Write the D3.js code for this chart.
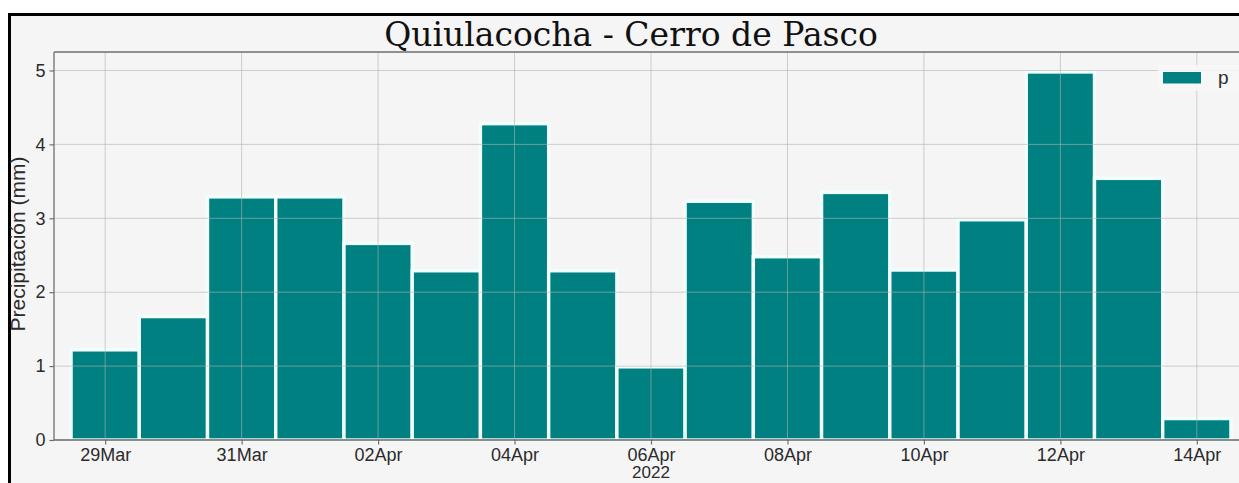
<!DOCTYPE html>
<html>
<head>
<meta charset="utf-8">
<script src="https://cdn.jsdelivr.net/npm/d3@7"></script>
<style>
  html, body { margin: 0; padding: 0; background: #ffffff; overflow: hidden; }
  svg { display: block; overflow: hidden; }
</style>
</head>
<body>
<script>
// ---- data ----
const dates = ["2022-03-29","2022-03-30","2022-03-31","2022-04-01","2022-04-02","2022-04-03",
  "2022-04-04","2022-04-05","2022-04-06","2022-04-07","2022-04-08","2022-04-09","2022-04-10",
  "2022-04-11","2022-04-12","2022-04-13","2022-04-14"];
const values = [1.22, 1.67, 3.29, 3.29, 2.66, 2.29, 4.28, 2.29, 0.99, 3.23, 2.48, 3.35, 2.30, 2.98, 4.98, 3.54, 0.29];
const yTicks = [0, 1, 2, 3, 4, 5];
const titleText = "Quiulacocha - Cerro de Pasco";
const yLabel = "Precipitación (mm)";
const xLabel = "2022";
const seriesName = "p";

// ---- layout ----
const W = 1239, H = 483;
const plot = { left: 54, right: 1248, top: 52, bottom: 440 };
const DAY = 86400000;
const barColor = "#008080";
const tickFont = "'Liberation Sans', Arial, sans-serif";

const parsed = dates.map(d => new Date(d + "T00:00:00Z"));
const data = parsed.map((d, i) => ({ date: d, value: values[i] }));

const svg = d3.select("body").append("svg").attr("width", W).attr("height", H);

// outer figure frame (only left and top edges visible in the crop)
svg.append("rect").attr("x", 9.5).attr("y", 14.5).attr("width", W - 9.5).attr("height", H - 14.5)
  .attr("fill", "#f5f5f5");
svg.append("path").attr("d", `M9.5,${H} V14.5 H${W}`)
  .attr("fill", "none").attr("stroke", "#000").attr("stroke-width", 3);

const x = d3.scaleUtc()
  .domain([new Date(+parsed[0] - 0.75 * DAY), new Date(+parsed[parsed.length - 1] + 0.75 * DAY)])
  .range([plot.left, plot.right]);
const y = d3.scaleLinear().domain([0, 5.25]).range([plot.bottom, plot.top]);

// plot background
svg.append("rect").attr("x", plot.left).attr("y", plot.top)
  .attr("width", W - plot.left).attr("height", plot.bottom - plot.top)
  .attr("fill", "#f5f5f5");

// bars
svg.append("g").selectAll("rect").data(data).join("rect")
  .attr("x", d => x(new Date(+d.date - 0.5 * DAY)))
  .attr("width", d => x(new Date(+d.date + 0.5 * DAY)) - x(new Date(+d.date - 0.5 * DAY)))
  .attr("y", d => y(d.value))
  .attr("height", d => y(0) - y(d.value))
  .attr("fill", barColor)
  .attr("stroke", "#f2ffff")
  .attr("stroke-width", 3.4);

// tick dates: every other day
const xTickDates = parsed.filter((d, i) => i % 2 === 0);

// grid (drawn above bars, semi-transparent)
const grid = svg.append("g").attr("stroke", "#b0b0b0").attr("stroke-opacity", 0.6).attr("stroke-width", 1);
grid.selectAll("line.v").data(xTickDates).join("line").attr("class", "v")
  .attr("x1", d => x(d)).attr("x2", d => x(d)).attr("y1", plot.top).attr("y2", plot.bottom);
grid.selectAll("line.h").data(yTicks).join("line").attr("class", "h")
  .attr("x1", plot.left).attr("x2", W).attr("y1", d => y(d)).attr("y2", d => y(d));

// spines
const spine = svg.append("g").attr("stroke", "#6e6e6e").attr("stroke-width", 1.3).attr("fill", "none");
spine.append("line").attr("x1", plot.left).attr("x2", W).attr("y1", plot.top).attr("y2", plot.top);
spine.append("line").attr("x1", plot.left).attr("x2", W).attr("y1", plot.bottom).attr("y2", plot.bottom);
spine.append("line").attr("x1", plot.left).attr("x2", plot.left).attr("y1", plot.top).attr("y2", plot.bottom);

// axes
const fmt = d3.utcFormat("%d%b");
const xAxis = svg.append("g").attr("transform", `translate(0,${plot.bottom})`)
  .call(d3.axisBottom(x).tickValues(xTickDates).tickFormat(fmt).tickSize(4.5).tickPadding(4));
const yAxis = svg.append("g").attr("transform", `translate(${plot.left},0)`)
  .call(d3.axisLeft(y).tickValues(yTicks).tickFormat(d3.format("d")).tickSize(4.5).tickPadding(4));
[xAxis, yAxis].forEach(g => {
  g.select(".domain").remove();
  g.selectAll(".tick line").attr("stroke", "#6e6e6e").attr("stroke-width", 1.2);
  g.selectAll(".tick text").attr("fill", "#2b2b2b").attr("font-family", tickFont).attr("font-size", 18);
});

// x label
svg.append("text").attr("x", x(parsed[8])).attr("y", 478)
  .attr("text-anchor", "middle").attr("font-family", tickFont).attr("font-size", 17)
  .attr("fill", "#2b2b2b").text(xLabel);

// y label
svg.append("text").attr("transform", `translate(25,${(plot.top + plot.bottom) / 2 - 2}) rotate(-90)`)
  .attr("text-anchor", "middle").attr("font-family", tickFont).attr("font-size", 21)
  .attr("fill", "#2b2b2b").text(yLabel);

// title
svg.append("text").attr("x", 631).attr("y", 46)
  .attr("text-anchor", "middle").attr("font-family", "'DejaVu Serif', serif").attr("font-size", 33)
  .attr("fill", "#111").text(titleText);

// legend
const lg = svg.append("g");
lg.append("rect").attr("x", 1158).attr("y", 65).attr("width", W - 1158).attr("height", 26)
  .attr("fill", "#f7f7f7").attr("fill-opacity", 0.85);
lg.append("rect").attr("x", 1163).attr("y", 72).attr("width", 38).attr("height", 11.5)
  .attr("fill", barColor);
lg.append("text").attr("x", 1218).attr("y", 84).attr("font-family", tickFont).attr("font-size", 19)
  .attr("fill", "#2b2b2b").text(seriesName);
</script>
</body>
</html>
